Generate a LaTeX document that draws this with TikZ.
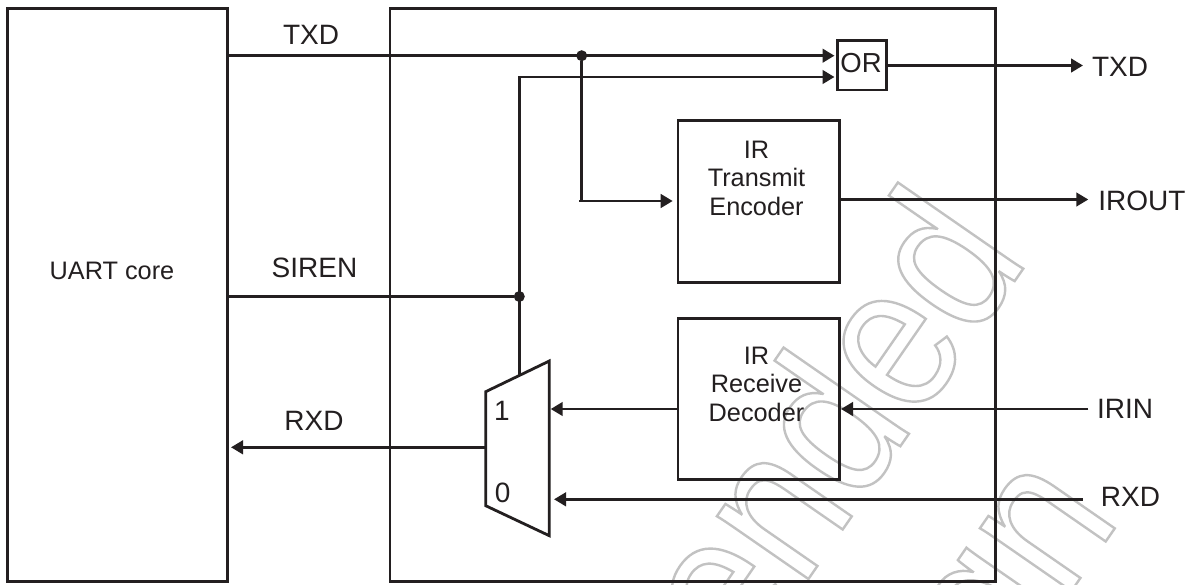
\documentclass[tikz,border=0pt]{standalone}
\usepackage{fontspec}
\setmainfont{Liberation Sans}
\newfontfamily\wmfont[FakeStretch=0.86]{Liberation Sans}
\usetikzlibrary{arrows.meta}
\definecolor{ink}{HTML}{231F20}
\newcommand{\outlined}[1]{\special{pdf:code q 0.76 G 2.4 w 1 Tr}#1\special{pdf:code 0 Tr Q}}
\tikzset{
 wire/.style={draw=ink,line width=2.8pt},
 arr/.style={wire,-{Triangle[length=12pt,width=13.5pt]}},
 block/.style={draw=ink,line width=2.8pt,inner sep=0pt},
 lab/.style={inner sep=0pt,text=ink,font=\fontsize{28}{28}\selectfont},
 boxlab/.style={inner sep=0pt,text=ink,align=center,font=\fontsize{25.3}{28.5}\selectfont},
 junction/.style={circle,fill=ink,inner sep=0pt,minimum size=11pt},
 wmtext/.style={inner sep=0pt,rotate=55.3,anchor=base west,font=\wmfont\fontsize{210}{210}\selectfont}
}
\begin{document}
\begin{tikzpicture}[x=1pt,y=-1pt]
\useasboundingbox (0,0) rectangle (1194,584);
\fill[white] (0,0) rectangle (1194,584);
\begin{scope}
\clip (0,0) rectangle (1194,584);
\node[wmtext] (wmA) at (744,672) {\outlined{ended}};
\node[wmtext] (wmB) at (1007,684) {\outlined{gn}};
\end{scope}
\node[block,minimum width=220pt,minimum height=573pt] (uart) at (117.3,295) {};
\node[boxlab] (uartt) at (112,271) {UART core};
\node[block,minimum width=605.3pt,minimum height=573pt] (chip) at (692.7,295) {};
\node[block,minimum width=49.4pt,minimum height=49.3pt] (or) at (862,65.4) {};
\node[lab,font=\fontsize{27.5}{28}\selectfont] (ort) at (861,63.5) {OR};
\node[block,minimum width=161.3pt,minimum height=162pt,anchor=north] (enc) at (758.7,119) {};
\node[block,minimum width=161.3pt,minimum height=161.3pt,anchor=north] (dec) at (758.7,316.7) {};
\node[boxlab] (enct) at (756.5,178) {IR\\Transmit\\Encoder};
\node[boxlab] (dect) at (756.5,384) {IR\\Receive\\Decoder};
\draw[wire,line join=miter] (485.7,391.7) -- (549.3,361) -- (549.3,535.7) -- (485.7,505.7) -- cycle;
\node[lab] (one) at (502,411) {1};
\node[lab] (zero) at (502.7,492.7) {0};
\node[junction] (j1) at (581.7,55.7) {};
\node[junction] (j2) at (519.3,296.5) {};
\coordinate (t1) at (834.5,55.7);
\coordinate (t2) at (834.5,77);
\coordinate (muxtop) at (519.3,376);
\coordinate (bend) at (519.3,77);
\draw[arr] (uart.east |- j1) -- (t1);
\draw[arr] (muxtop) -- (bend) -- (t2);
\draw[wire] (uart.east |- j2) -- (j2);
\coordinate (b1) at (581.7,201);
\coordinate (b0) at (579,201);
\coordinate (enci) at (672.7,201);
\draw[wire] (j1) -- (b1);
\draw[arr] (b0) -- (enci);
\coordinate (txdend) at (1083,65.5);
\draw[arr] (or.east |- txdend) -- (txdend);
\coordinate (iroutend) at (1088.3,199.5);
\draw[arr] (enc.east |- iroutend) -- (iroutend);
\coordinate (irinst) at (1088.3,409);
\coordinate (irinen) at (841,409);
\draw[arr] (irinst) -- (irinen);
\coordinate (mux1) at (550.7,409);
\draw[arr] (dec.west |- irinst) -- (mux1);
\coordinate (rxdst) at (1082.7,499.3);
\coordinate (mux0) at (554,499.3);
\draw[arr] (rxdst) -- (mux0);
\coordinate (rxdl) at (485.7,447.3);
\coordinate (rxdle) at (231,447.3);
\draw[arr] (rxdl) -- (rxdle);
\node[lab] (l1) at (311,35) {TXD};
\node[lab] (l2) at (314.5,268) {SIREN};
\node[lab] (l3) at (314,421) {RXD};
\node[lab] (l4) at (1120,67) {TXD};
\node[lab] (l5) at (1142,200.5) {IROUT};
\node[lab] (l6) at (1125,409) {IRIN};
\node[lab] (l7) at (1130.5,497) {RXD};
\end{tikzpicture}
\end{document}
